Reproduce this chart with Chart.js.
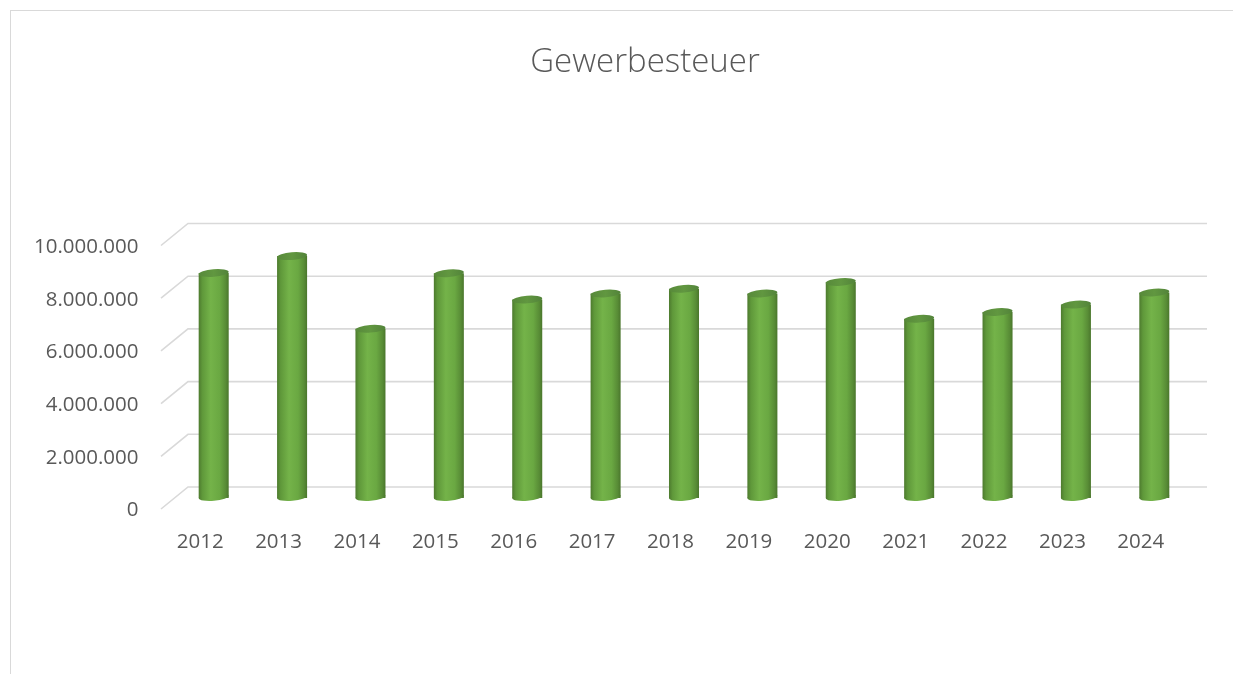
<!DOCTYPE html>
<html>
<head>
<meta charset="utf-8">
<script src="https://cdn.jsdelivr.net/npm/chart.js@4"></script>
<style>
  html, body { margin: 0; padding: 0; background: #fff; }
  #frame {
    position: absolute; left: 10px; top: 10px; width: 1260px; height: 700px;
    border-left: 1px solid #d9d9d9; border-top: 1px solid #d9d9d9;
  }
  #wrap { position: absolute; left: 0; top: 0; width: 1233px; height: 674px; }
</style>
</head>
<body>
<div id="frame"></div>
<div id="wrap"><canvas id="chart" width="1233" height="674"></canvas></div>
<script>
const title = 'Gewerbesteuer';
const years = ['2012', '2013', '2014', '2015', '2016', '2017', '2018', '2019', '2020', '2021', '2022', '2023', '2024'];
const values = [8540000, 9180000, 6420000, 8530000, 7530000, 7760000, 7940000, 7760000, 8200000, 6800000, 7060000, 7340000, 7800000];
const yTicks = [0, 2000000, 4000000, 6000000, 8000000, 10000000];

// depth offset of the 3d box (front / back plane relative to the bars)
const DX = 13.5;
const DY = 11;

function fmt(v) {
  return String(v).replace(/\B(?=(\d{3})+(?!\d))/g, '.');
}

function barGradient(c) {
  const chart = c.chart;
  if (!chart.chartArea) return '#70ad47';
  const xs = chart.scales.x;
  const x = xs.getPixelForValue(c.dataIndex);
  const half = xs.width / years.length * 0.383 / 2;
  const g = chart.ctx.createLinearGradient(x - half, 0, x + half, 0);
  g.addColorStop(0, '#4d7a2e');
  g.addColorStop(0.12, '#5f983a');
  g.addColorStop(0.4, '#74b349');
  g.addColorStop(0.7, '#6aa842');
  g.addColorStop(0.9, '#588c36');
  g.addColorStop(1, '#4a762c');
  return g;
}

const boxPlugin = {
  id: 'box3d',
  beforeDatasetsDraw(chart) {
    const ctx = chart.ctx;
    const ys = chart.scales.y;
    const { left, right } = chart.chartArea;
    ctx.save();
    ctx.strokeStyle = '#d9d9d9';
    ctx.lineWidth = 1.6;
    ys.ticks.forEach(t => {
      const y = ys.getPixelForValue(t.value);
      ctx.beginPath();
      ctx.moveTo(left - DX, y + DY);
      ctx.lineTo(left + DX, y - DY);
      ctx.lineTo(right + DX, y - DY);
      ctx.stroke();
    });
    ctx.restore();
  },
  afterDatasetsDraw(chart) {
    const ctx = chart.ctx;
    const meta = chart.getDatasetMeta(0);
    ctx.save();
    meta.data.forEach((el, i) => {
      const rx = el.width / 2;
      const ry = 3.8;
      // rounded bottom (upper half hides behind the bar body)
      ctx.beginPath();
      ctx.ellipse(el.x, el.base - 1, rx, ry, -0.08, 0, Math.PI * 2);
      ctx.fillStyle = barGradient({ chart, dataIndex: i });
      ctx.fill();
      // top cap
      const g = ctx.createLinearGradient(el.x - rx, 0, el.x + rx, 0);
      g.addColorStop(0, '#57893a');
      g.addColorStop(0.5, '#619740');
      g.addColorStop(1, '#52833a');
      ctx.beginPath();
      ctx.ellipse(el.x, el.y, rx, ry, -0.08, 0, Math.PI * 2);
      ctx.fillStyle = g;
      ctx.fill();
    });
    ctx.restore();
  },
  afterDraw(chart) {
    const ctx = chart.ctx;
    ctx.save();
    ctx.fillStyle = '#595959';
    ctx.font = '300 33px "Open Sans"';
    ctx.textAlign = 'center';
    ctx.textBaseline = 'middle';
    ctx.fillText(title, 645, 63);
    ctx.restore();
  }
};

new Chart(document.getElementById('chart'), {
  type: 'bar',
  data: {
    labels: years,
    datasets: [{
      data: values,
      backgroundColor: barGradient,
      borderWidth: 0,
      barPercentage: 0.383,
      categoryPercentage: 1
    }]
  },
  options: {
    responsive: false,
    animation: false,
    layout: { padding: { left: 0, right: 39.5, top: 234.5, bottom: 0 } },
    scales: {
      x: {
        grid: { display: false, drawTicks: false },
        border: { display: false },
        ticks: {
          color: '#595959',
          font: { family: '"Open Sans"', size: 20.5 },
          padding: 32,
          labelOffset: -DX,
          maxRotation: 0
        },
        afterFit(s) { s.height = 176; }
      },
      y: {
        min: 0,
        max: 10000000,
        afterBuildTicks(s) { s.ticks = yTicks.map(v => ({ value: v })); },
        grid: { display: false, drawTicks: false },
        border: { display: false },
        ticks: {
          color: '#595959',
          font: { family: '"Open Sans"', size: 20.5 },
          padding: 36,
          labelOffset: DY + 1.5,
          callback: v => fmt(v)
        },
        afterFit(s) { s.width = 174.5; }
      }
    },
    plugins: {
      legend: { display: false },
      title: { display: false },
      tooltip: { enabled: false }
    }
  },
  plugins: [boxPlugin]
});
</script>
</body>
</html>
